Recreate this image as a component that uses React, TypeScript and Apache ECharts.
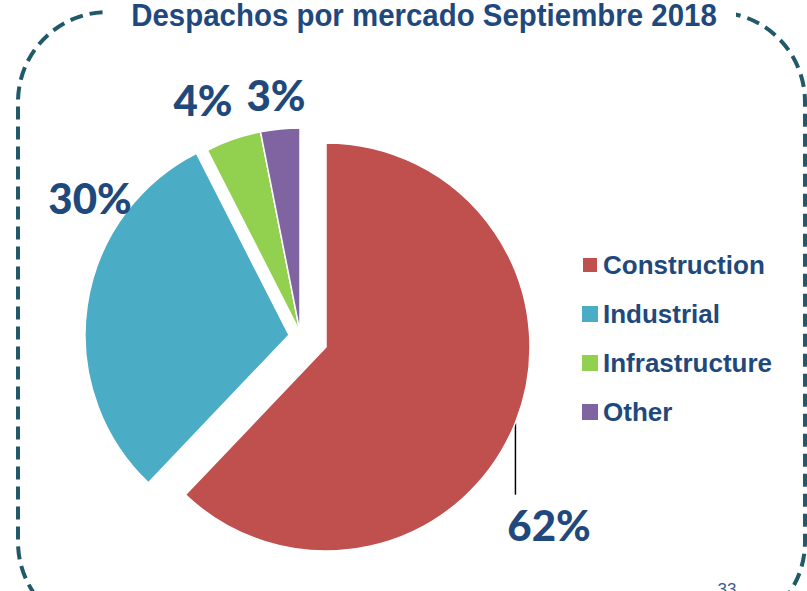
import React, { useEffect, useRef } from 'react';
import * as echarts from 'echarts';

const TITLE = 'Despachos por mercado Septiembre 2018';
const CATEGORIES = ['Construction', 'Industrial', 'Infrastructure', 'Other'];
const VALUES = [62.1, 30.4, 4.4, 3.1];
const COLORS = ['#C0504D', '#4BACC6', '#92D050', '#8064A2'];
const PAGE_NUMBER = '33';

const TEXT_BLUE = '#1F497D';
const BORDER = '#215968';
const RADIUS = 204;

// exploded groups of slices: which slices each pie layer shows, and its centre
const GROUPS = [
  { show: [0], center: [326, 347] },
  { show: [1], center: [289, 335] },
  { show: [2, 3], center: [300, 332] },
];

// label centres (manually placed in the original slide)
const LABEL_POS: number[][] = [
  [549, 525],
  [90, 198],
  [203, 100],
  [276, 95],
];

export default function App() {
  const ref = useRef<HTMLDivElement>(null);
  useEffect(() => {
    if (!ref.current) return;
    const chart = echarts.init(ref.current, undefined, { renderer: 'svg' });

    const series = GROUPS.map((g, gi) => ({
      type: 'pie',
      name: 'g' + gi,
      center: g.center,
      radius: [0, RADIUS],
      startAngle: 90,
      clockwise: true,
      silent: true,
      avoidLabelOverlap: false,
      z: 2,
      data: CATEGORIES.map((name, i) => {
        const vis = g.show.includes(i);
        return {
          name,
          value: VALUES[i],
          itemStyle: vis
            ? { color: COLORS[i], borderColor: '#ffffff', borderWidth: 1.5 }
            : { color: 'rgba(0,0,0,0)', borderWidth: 0 },
          label: { show: vis },
          labelLine: { show: vis && i === 0, lineStyle: { color: '#000', width: 1.5 } },
        };
      }),
      label: {
        position: 'outside',
        formatter: (p: any) => Math.round(p.value) + '%',
        fontFamily: 'Lato, "Open Sans", sans-serif',
        fontWeight: 900,
        fontSize: 42,
        color: TEXT_BLUE,
      },
      labelLine: { length: 10, length2: 10 },
      labelLayout: (params: any) => {
        const pos = LABEL_POS[params.dataIndex];
        const out: any = { x: pos[0], y: pos[1], align: 'center', verticalAlign: 'middle' };
        if (params.dataIndex === 0 && params.labelLinePoints) {
          const p0 = params.labelLinePoints[0];
          const p1 = [p0[0], p0[1] + 72];
          out.labelLinePoints = [p0, p1, p1];
        }
        return out;
      },
    }));

    chart.setOption({
      animation: false,
      backgroundColor: '#ffffff',
      legend: {
        orient: 'vertical',
        left: 581,
        top: 252,
        padding: 0,
        itemWidth: 16,
        itemHeight: 16,
        itemGap: 23,
        icon: 'rect',
        selectedMode: false,
        textStyle: {
          fontFamily: '"Liberation Sans", Arial, sans-serif',
          fontWeight: 'bold',
          fontSize: 26,
          color: TEXT_BLUE,
        },
        data: CATEGORIES.map((name, i) => ({ name, itemStyle: { color: COLORS[i] } })),
      },
      graphic: [
        {
          type: 'rect',
          z: 0,
          shape: { x: 18, y: 12, width: 787, height: 620, r: 90 },
          style: { fill: 'none', stroke: BORDER, lineWidth: 4, lineDash: [13, 7] },
          silent: true,
        },
        {
          type: 'rect',
          z: 1,
          shape: { x: 106, y: 0, width: 630, height: 30 },
          style: { fill: '#ffffff' },
          silent: true,
        },
        {
          type: 'text',
          z: 3,
          x: 424,
          y: 15,
          scaleX: 0.92,
          style: {
            text: TITLE,
            fill: TEXT_BLUE,
            font: 'bold 32px "Liberation Sans", Arial, sans-serif',
            align: 'center',
            verticalAlign: 'middle',
          },
          silent: true,
        },
        {
          type: 'text',
          z: 3,
          x: 727,
          y: 581,
          style: {
            text: PAGE_NUMBER,
            fill: '#3E5C88',
            font: '17px "Liberation Sans", Arial, sans-serif',
            align: 'center',
            verticalAlign: 'top',
          },
          silent: true,
        },
      ],
      series,
    });
    return () => chart.dispose();
  }, []);
  return (
    <div
      ref={ref}
      style={{ position: 'fixed', left: 0, top: 0, width: 807, height: 591 }}
    />
  );
}
